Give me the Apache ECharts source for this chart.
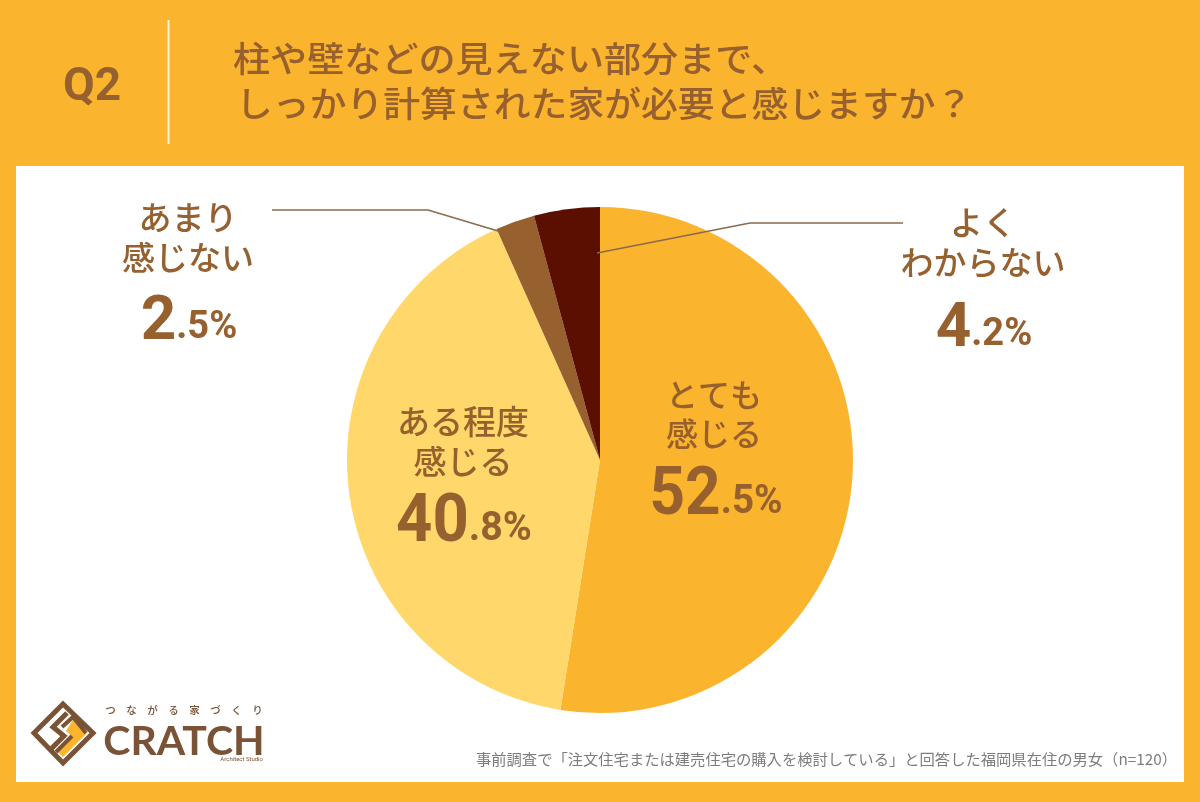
<!DOCTYPE html>
<html>
<head>
<meta charset="utf-8">
<style>html,body{margin:0;padding:0;background:#fbb42d}#main{width:1200px;height:802px}</style>
<script src="https://cdn.jsdelivr.net/npm/echarts@6/dist/echarts.min.js"></script>
</head>
<body>
<div id="main"></div>
<script>
var categories = ['とても感じる', 'ある程度感じる', 'あまり感じない', 'よくわからない'];
var values = [52.5, 40.8, 2.5, 4.2];
var colors = ['#fbb42d', '#ffd76a', '#96602f', '#5a0f00'];
var titleLines = ['柱や壁などの見えない部分まで、', 'しっかり計算された家が必要と感じますか？'];
var footnote = '事前調査で「注文住宅または建売住宅の購入を検討している」と回答した福岡県在住の男女（n=120）';

var BROWN = '#96602f';
var LOGO = '#7a5236';
var JP = '"Noto Sans CJK JP"';
var NUM = 'Roboto, sans-serif';

function txt(s, x, y, size, align, weight, color, scaleX) {
	return {
		type: 'text', z: 10, x: x, y: y, scaleX: scaleX || 1,
		style: { text: s, fill: color || BROWN, font: (weight || 500) + ' ' + size + 'px ' + JP, textAlign: align || 'center', textVerticalAlign: 'middle' }
	};
}

// 大きい数字 + 小さい小数部
function pct(value, x, y, big, small, scaleX) {
	var parts = value.toFixed(1).split('.');
	return {
		type: 'text', z: 10, x: x, y: y, scaleX: scaleX || 1,
		style: {
			text: '{b|' + parts[0] + '}{s|.' + parts[1] + '%}',
			textAlign: 'center', textVerticalAlign: 'middle',
			rich: {
				b: { font: 'bold ' + big + 'px ' + NUM, fill: BROWN },
				s: { font: 'bold ' + small + 'px ' + NUM, fill: BROWN, padding: [Math.round((big - small) * 0.42), 0, 0, 0] }
			}
		}
	};
}

function line(points, color, width) {
	return { type: 'polyline', z: 9, shape: { points: points }, style: { stroke: color || '#8a6a4f', lineWidth: width || 1.6, fill: null } };
}

var graphics = [
	{ type: 'rect', z: 0, shape: { x: 16, y: 166, width: 1168, height: 616 }, style: { fill: '#ffffff' } },
	{ type: 'rect', z: 1, shape: { x: 167.5, y: 20, width: 2, height: 124 }, style: { fill: '#fff3d6' } },
	{ type: 'text', z: 10, x: 92, y: 88, style: { text: 'Q2', font: 'bold 46px ' + NUM, fill: BROWN, textAlign: 'center', textVerticalAlign: 'middle' } },
	txt(titleLines[0], 233, 59, 35, 'left', 500, BROWN, 1.06),
	txt(titleLines[1], 236, 104, 35, 'left', 500, BROWN, 1.052),

	txt('あまり', 188, 217, 33),
	txt('感じない', 188, 257, 33),
	pct(values[2], 189, 323, 62, 38),
	line([[272, 210], [428, 210], [498, 231]]),

	txt('よく', 983, 222, 33),
	txt('わからない', 983, 262, 33),
	pct(values[3], 984, 330, 62, 38),
	line([[597, 253], [750, 223], [903, 223]]),

	txt('とても', 714, 395, 32),
	txt('感じる', 714, 434, 32),
	pct(values[0], 716, 497, 66, 41, 0.94),

	txt('ある程度', 463, 421, 33),
	txt('感じる', 463, 461, 33),
	pct(values[1], 464, 524, 66, 41, 0.96),

	txt(footnote, 1177, 759, 15.3, 'right', 400, '#7d7d7d'),

	// ロゴ
	{ type: 'polygon', z: 5, shape: { points: [[63, 704], [93, 733], [63, 763], [34, 733]] }, style: { fill: '#ffffff', stroke: LOGO, lineWidth: 5 } },
	{ type: 'polygon', z: 6, shape: { points: [[74, 718], [87, 733], [63, 757], [58, 752], [72, 736], [66, 731]] }, style: { fill: '#fbb42d' } },
	{ type: 'polyline', z: 7, shape: { points: [[67, 713], [53, 727], [64, 736], [50, 750]] }, style: { stroke: LOGO, lineWidth: 5, fill: null } },
	{ type: 'polyline', z: 7, shape: { points: [[62, 727], [73, 717], [86, 733]] }, style: { stroke: LOGO, lineWidth: 4, fill: null } },
	{ type: 'polyline', z: 7, shape: { points: [[72, 736], [56, 752]] }, style: { stroke: LOGO, lineWidth: 4, fill: null } },
	{ type: 'text', z: 10, x: 184, y: 710, style: { text: 'つ　な　が　る　家　づ　く　り', font: '500 10.5px ' + JP, fill: LOGO, textAlign: 'center', textVerticalAlign: 'middle' } },
	{ type: 'text', z: 10, x: 184, y: 742, style: { text: 'CRATCH', font: 'bold 41px Lato', fill: LOGO, textAlign: 'center', textVerticalAlign: 'middle' } },
	{ type: 'text', z: 10, x: 263, y: 759, style: { text: 'Architect Studio', font: '6px Roboto', fill: LOGO, textAlign: 'right', textVerticalAlign: 'middle' } }
];

var chart = echarts.init(document.getElementById('main'), null, { renderer: 'canvas' });
chart.setOption({
	backgroundColor: '#fbb42d',
	animation: false,
	color: colors,
	graphic: { elements: graphics },
	series: [{
		type: 'pie',
		z: 3,
		center: [600, 460],
		radius: [0, 253],
		startAngle: 90,
		clockwise: true,
		label: { show: false },
		labelLine: { show: false },
		emphasis: { disabled: true },
		data: categories.map(function (c, i) { return { name: c, value: values[i] }; })
	}]
});
</script>
</body>
</html>
